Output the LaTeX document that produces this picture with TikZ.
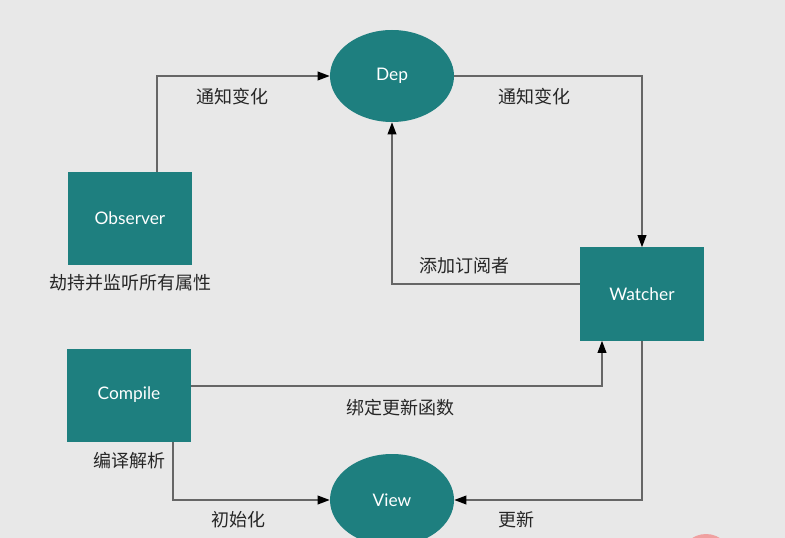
\documentclass[tikz,border=0pt]{standalone}
\usepackage{fontspec}
\setmainfont{Lato}
\newfontfamily\cjk{Noto Sans CJK SC}
\usetikzlibrary{shapes.geometric,arrows.meta}
\definecolor{tealfill}{HTML}{1E7F7F}
\definecolor{bggrey}{HTML}{E8E8E8}
\definecolor{linegrey}{HTML}{666666}
\definecolor{pinkmark}{HTML}{F0A0A0}

\begin{document}
\begin{tikzpicture}
  [x=0.75pt,y=-0.75pt,
   block/.style={rectangle,fill=tealfill,text=white,minimum width=93pt,minimum height=69.75pt,inner sep=0pt,font=\fontsize{13}{15}\selectfont},
   oval/.style={ellipse,fill=tealfill,text=white,minimum width=93pt,minimum height=69pt,inner sep=0pt,font=\fontsize{13}{15}\selectfont},
   link/.style={draw=linegrey,line width=1.1pt,-{Triangle[color=black,length=9pt,width=6.5pt]}},
   note/.style={font=\cjk\fontsize{13.5}{16}\selectfont,text=black!85,inner sep=0pt}]

  % background and page size
  \fill[bggrey] (0,0) rectangle (785,538);
  \useasboundingbox (0,0) rectangle (785,538);
  \begin{scope}
    \clip (0,0) rectangle (785,538);
    \fill[pinkmark] (706,560) circle[radius=19.5pt];
  \end{scope}

  \node[block] (observer) at (130,218.5) {Observer};
  \node[oval] (dep) at (392,76) {Dep};
  \node[block] (watcher) at (642,294) {Watcher};
  \node[block] (compile) at (129,395) {Compile};
  \node[oval] (view) at (392,500) {View};

  \draw[link] ([xshift=20.25pt]observer.north) |- (dep.west);
  \draw[link] (dep.east) -| (watcher.north);
  \draw[link] ([yshift=7.5pt]watcher.west) -| (dep.south);
  \draw[link] ([yshift=6.75pt]compile.east) -| ([xshift=-30pt]watcher.south);
  \draw[link] ([xshift=33pt]compile.south) |- (view.west);
  \draw[link] (watcher.south) |- (view.east);

  \node[note] (obslabel) at (130,283) {劫持并监听所有属性};
  \node[note] (cmplabel) at (129,461) {编译解析};
  \node[note] (notify1) at (232,97) {通知变化};
  \node[note] (notify2) at (534,97) {通知变化};
  \node[note] (subscribe) at (464,266) {添加订阅者};
  \node[note] (bind) at (400,408) {绑定更新函数};
  \node[note] (init) at (238,520) {初始化};
  \node[note] (update) at (516,520) {更新};

\end{tikzpicture}
\end{document}
